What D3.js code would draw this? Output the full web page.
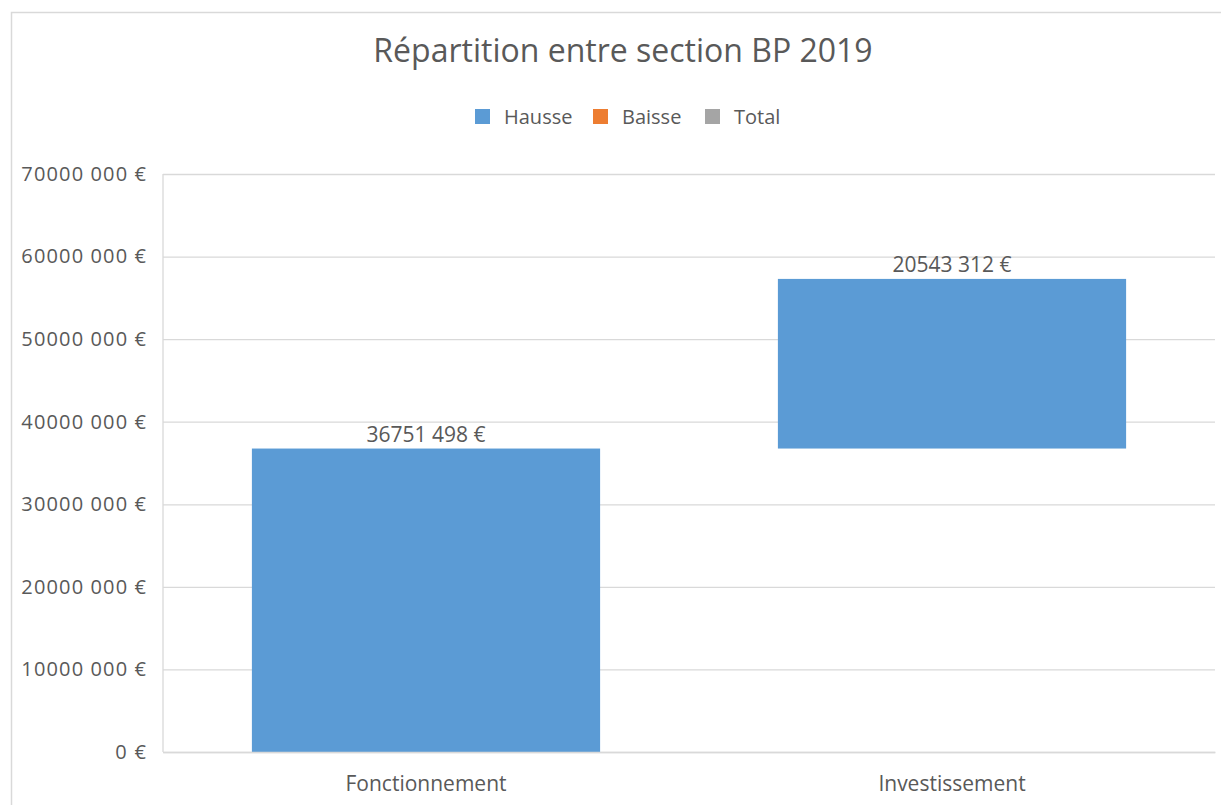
<!DOCTYPE html>
<html>
<head>
<meta charset="utf-8">
<script src="https://cdn.jsdelivr.net/npm/d3@7"></script>
<style>
  body { margin: 0; background: #fff; }
  svg { display: block; font-family: "Open Sans", "Noto Sans", sans-serif; }
</style>
</head>
<body>
<svg id="chart" width="1221" height="805"></svg>
<script>
const title = "Répartition entre section BP 2019";
const categories = ["Fonctionnement", "Investissement"];
const values = [36751498, 20543312];
const valueLabels = ["36751 498 €", "20543 312 €"];
const legendNames = ["Hausse", "Baisse", "Total"];
const legendColors = ["#5B9BD5", "#ED7D31", "#A5A5A5"];
const tickValues = [0, 10000000, 20000000, 30000000, 40000000, 50000000, 60000000, 70000000];
const tickLabels = ["0 €", "10000 000 €", "20000 000 €", "30000 000 €", "40000 000 €", "50000 000 €", "60000 000 €", "70000 000 €"];

const svg = d3.select("#chart");
const textColor = "#595959";

// outer chart border
svg.append("path")
  .attr("d", "M11.5,805 L11.5,12.5 L1221,12.5")
  .attr("fill", "none").attr("stroke", "#d9d9d9").attr("stroke-width", 1.5);

const plot = { left: 163, right: 1215, top: 174, bottom: 752 };

const x = d3.scaleBand().domain(categories).range([plot.left, plot.right]).paddingInner(0.338).paddingOuter(0.169);
const y = d3.scaleLinear().domain([0, 70000000]).range([plot.bottom, plot.top]);

// waterfall bases
let cum = 0;
const bars = categories.map((c, i) => { const b = { cat: c, start: cum, end: cum + values[i], label: valueLabels[i] }; cum += values[i]; return b; });

// gridlines + y labels
const yAxis = d3.axisLeft(y).tickValues(tickValues).tickFormat((d, i) => tickLabels[i]).tickSize(-(plot.right - plot.left)).tickPadding(17);
const gy = svg.append("g").attr("transform", `translate(${plot.left},0)`).call(yAxis);
gy.select(".domain").remove();
gy.selectAll(".tick line").attr("stroke", "#d9d9d9").attr("stroke-width", 1.3);
gy.selectAll(".tick text").attr("fill", textColor).attr("font-size", 20).attr("font-family", "Open Sans, sans-serif")
  .attr("textLength", function() { return this.getComputedTextLength() * 1.1; });

// left axis line
svg.append("line").attr("x1", plot.left).attr("x2", plot.left).attr("y1", plot.top).attr("y2", plot.bottom)
  .attr("stroke", "#d9d9d9").attr("stroke-width", 1.3);

// bars
svg.append("g").selectAll("rect").data(bars).join("rect")
  .attr("x", d => x(d.cat))
  .attr("width", x.bandwidth())
  .attr("y", d => y(d.end))
  .attr("height", d => y(d.start) - y(d.end))
  .attr("fill", legendColors[0]);

// data labels
svg.append("g").selectAll("text").data(bars).join("text")
  .attr("x", d => x(d.cat) + x.bandwidth() / 2)
  .attr("y", d => y(d.end) - 7)
  .attr("text-anchor", "middle")
  .attr("fill", textColor).attr("font-size", 21)
  .text(d => d.label);

// x axis labels
const xAxis = d3.axisBottom(x).tickSize(0).tickPadding(24);
const gx = svg.append("g").attr("transform", `translate(0,${plot.bottom})`).call(xAxis);
gx.select(".domain").attr("stroke", "#d9d9d9").attr("stroke-width", 1.3);
gx.selectAll(".tick text").attr("fill", textColor).attr("font-size", 21).attr("font-family", "Open Sans, sans-serif");

// title
svg.append("text").attr("x", 623).attr("y", 62).attr("text-anchor", "middle")
  .attr("fill", textColor).attr("font-size", 32).text(title);

// legend
const legendX = [475, 593, 705];
const lg = svg.append("g").selectAll("g").data(legendNames).join("g")
  .attr("transform", (d, i) => `translate(${legendX[i]},109)`);
lg.append("rect").attr("width", 15).attr("height", 15).attr("fill", (d, i) => legendColors[i]);
lg.append("text").attr("x", 29).attr("y", 15).attr("fill", textColor).attr("font-size", 20).text(d => d);
</script>
</body>
</html>
